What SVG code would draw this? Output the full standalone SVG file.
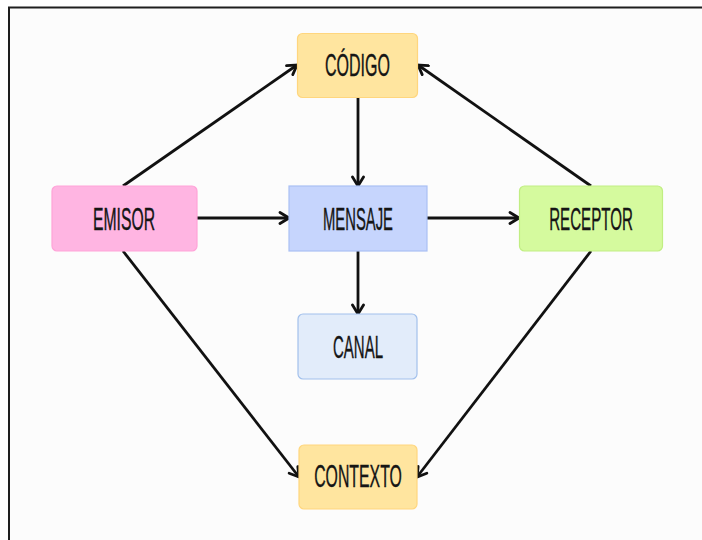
<svg xmlns="http://www.w3.org/2000/svg" width="702" height="540" viewBox="0 0 702 540">
<defs>
<style>
.box{stroke-width:1.2}
.lbl{font-family:"Liberation Sans",Arial,sans-serif;font-size:31px;fill:#151515;stroke:#151515;stroke-width:0.4;text-anchor:middle}
.con line{stroke:#111;stroke-width:2.8;fill:none;marker-end:url(#arr)}
</style>
<marker id="arr" viewBox="0 0 14 14" refX="12" refY="7" markerWidth="14" markerHeight="14" markerUnits="userSpaceOnUse" orient="auto">
<path d="M3,1.5 L12,7 L3,12.5" fill="none" stroke="#111" stroke-width="2.8" stroke-linecap="round" stroke-linejoin="miter"/>
</marker>
</defs>
<rect x="0" y="0" width="702" height="540" fill="#ffffff"/>
<rect x="9" y="7.5" width="720" height="560" fill="#fcfcfc" stroke="#1e1e1e" stroke-width="2"/>
<g class="con" id="connectors">
<line x1="123" y1="186" x2="297" y2="65"/>
<line x1="591" y1="186" x2="418" y2="65"/>
<line x1="358" y1="97" x2="358" y2="186"/>
<line x1="197" y1="218" x2="289" y2="218"/>
<line x1="427" y1="218" x2="519" y2="218"/>
<line x1="358" y1="251" x2="358" y2="314"/>
<line x1="123" y1="251" x2="299" y2="477"/>
<line x1="591" y1="251" x2="417" y2="477"/>
</g>
<g id="codigo">
<rect class="box" x="297.5" y="33.5" width="120" height="64" rx="5" fill="#ffe59f" stroke="#ffd67e"/>
<text class="lbl" transform="translate(357.5,76) scale(0.517,1)">CÓDIGO</text>
</g>
<g id="emisor">
<rect class="box" x="52" y="186" width="145" height="65" rx="5" fill="#ffb5e2" stroke="#ffa3d8"/>
<text class="lbl" transform="translate(124,229.5) scale(0.507,1)">EMISOR</text>
</g>
<g id="mensaje">
<rect class="box" x="289" y="186" width="138" height="65" fill="#c6d5fd" stroke="#aac0f4"/>
<text class="lbl" transform="translate(358,229.5) scale(0.478,1)">MENSAJE</text>
</g>
<g id="receptor">
<rect class="box" x="519.5" y="186" width="143" height="65" rx="5" fill="#d5fa9e" stroke="#c1ee83"/>
<text class="lbl" transform="translate(591,229.5) scale(0.488,1)">RECEPTOR</text>
</g>
<g id="canal">
<rect class="box" x="298" y="314" width="119" height="65" rx="5" fill="#e2ecfa" stroke="#a2c0ec"/>
<text class="lbl" transform="translate(358,357.5) scale(0.484,1)">CANAL</text>
</g>
<g id="contexto">
<rect class="box" x="299" y="445" width="118" height="64" rx="5" fill="#ffe59f" stroke="#ffd67e"/>
<text class="lbl" transform="translate(358,486.5) scale(0.511,1)">CONTEXTO</text>
</g>
</svg>
